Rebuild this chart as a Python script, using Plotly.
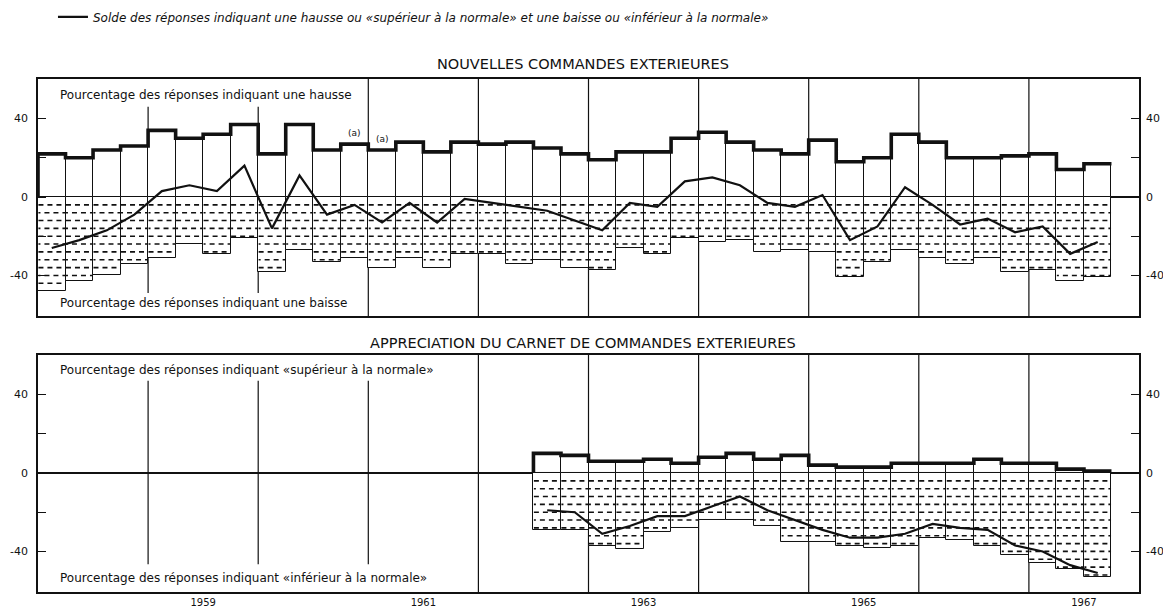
import plotly.graph_objects as go

# ---------------- data ----------------
# quarterly survey results (percent of answers)
top_quarters = [f"{y}-T{q}" for y in range(1958, 1968) for q in range(1, 5)][:39]
top_hausse = [22, 20, 24, 26, 34, 30, 32, 37, 22, 37, 24, 27,
              24, 28, 23, 28, 27, 28, 25, 22, 19, 23, 23, 30,
              33, 28, 24, 22, 29, 18, 20, 32, 28, 20, 20, 21,
              22, 14, 17]
top_baisse = [-48, -43, -40, -34, -31, -24, -29, -21, -38, -27, -33, -31,
              -36, -31, -36, -29, -29, -34, -32, -36, -37, -26, -29, -21,
              -23, -22, -28, -27, -28, -41, -33, -27, -31, -34, -31, -38,
              -37, -43, -41]
top_solde = [-26, -22, -17, -9, 3, 6, 3, 16, -16, 11, -9, -4,
             -13, -3, -13, -1, -3, -5, -7, -12, -17, -3, -5, 8,
             10, 6, -3, -5, 1, -22, -15, 5, -4, -14, -11, -18,
             -15, -29, -23]
top_notes = {"1960-T4": "(a)", "1961-T1": "(a)"}

bot_quarters = ["1962-T3", "1962-T4"] + [f"{y}-T{q}" for y in range(1963, 1968) for q in range(1, 5)][:19]
bot_hausse = [10, 9, 6, 6, 7, 5, 8, 10, 7, 9, 4, 3, 3, 5, 5, 5, 7, 5, 5, 2, 1]
bot_baisse = [-29, -29, -37, -39, -30, -28, -24, -24, -27, -35, -35, -37,
              -38, -37, -33, -34, -37, -42, -46, -49, -53]
bot_solde = [-19, -20, -31, -27, -22, -22, -17, -12, -19, -24, -29, -33,
             -33, -31, -26, -28, -29, -37, -40, -47, -51]

year_lines = [1959, 1960, 1961, 1962, 1963, 1964, 1965, 1966, 1967]
top_short_lines = [1959, 1960]
bot_short_lines = [1959, 1960, 1961]
year_tick_labels = ["1959", "1961", "1963", "1965", "1967"]

legend_text = ("Solde des réponses indiquant une hausse ou «supérieur à la normale» "
               "et une baisse ou «inférieur à la normale»")
top_title = "NOUVELLES COMMANDES EXTERIEURES"
bot_title = "APPRECIATION DU CARNET DE COMMANDES EXTERIEURES"
top_up_label = "Pourcentage des réponses indiquant une hausse"
top_dn_label = "Pourcentage des réponses indiquant une baisse"
bot_up_label = "Pourcentage des réponses indiquant «supérieur à la normale»"
bot_dn_label = "Pourcentage des réponses indiquant «inférieur à la normale»"

# ---------------- helpers ----------------
FONT = "DejaVu Sans"
INK = "#111111"
QW = 0.25


def qx(label):
    y, q = label.split("-T")
    return int(y) + (int(q) - 1) * QW + QW / 2


DASH_A = "5px,4px"
DASH_B = "2px,4px,5px,4px,3px,0px"


def panel_traces(quarters, hausse, baisse, solde, xa, ya, show_legend):
    xc = [qx(q) for q in quarters]
    tr = []
    tr.append(go.Bar(x=xc, y=hausse, width=QW, marker=dict(color="white", line=dict(color=INK, width=1)),
                     xaxis=xa, yaxis=ya, showlegend=False, hoverinfo="skip"))
    tr.append(go.Bar(x=xc, y=baisse, width=QW, marker=dict(color="white", line=dict(color=INK, width=1)),
                     xaxis=xa, yaxis=ya, showlegend=False, hoverinfo="skip"))
    # dashed hatching inside the "baisse" bars
    k = 1
    deepest = min(baisse)
    while -4 * k > deepest:
        level = -4 * k
        xs, ys = [], []
        for c, b in zip(xc, baisse):
            if b <= level - 1:
                xs += [c - QW / 2 + 0.004, c + QW / 2 - 0.004, None]
                ys += [level, level, None]
        if xs:
            tr.append(go.Scatter(x=xs, y=ys, mode="lines", connectgaps=False,
                                 line=dict(color=INK, width=1.6, dash=DASH_A if k % 2 else DASH_B),
                                 xaxis=xa, yaxis=ya, showlegend=False, hoverinfo="skip"))
        k += 1
    # thick step along the tops of the "hausse" bars
    sx = [xc[0] - QW / 2] + [c - QW / 2 for c in xc] + [xc[-1] + QW / 2]
    sy = [0] + list(hausse) + [hausse[-1]]
    tr.append(go.Scatter(x=sx, y=sy, mode="lines", line=dict(color=INK, width=3.6, shape="hv"),
                         xaxis=xa, yaxis=ya, showlegend=False, hoverinfo="skip"))
    tr.append(go.Scatter(x=xc, y=solde, mode="lines", line=dict(color=INK, width=2.2),
                         name=legend_text, xaxis=xa, yaxis=ya, showlegend=show_legend))
    return tr


fig = go.Figure()
for t in panel_traces(top_quarters, top_hausse, top_baisse, top_solde, "x", "y", True):
    fig.add_trace(t)
for t in panel_traces(bot_quarters, bot_hausse, bot_baisse, bot_solde, "x2", "y2", False):
    fig.add_trace(t)
# invisible traces to carry the right-hand axes
fig.add_trace(go.Scatter(x=[1958], y=[0], mode="markers", marker=dict(opacity=0), xaxis="x", yaxis="y3",
                         showlegend=False, hoverinfo="skip"))
fig.add_trace(go.Scatter(x=[1958], y=[0], mode="markers", marker=dict(opacity=0), xaxis="x2", yaxis="y4",
                         showlegend=False, hoverinfo="skip"))

YR = [-60.7, 60.2]
TOP_DOM = [0.538, 1.0]
BOT_DOM = [0.0, 0.462]
yt = dict(range=YR, tickvals=[-40, -20, 0, 20, 40], ticktext=["-40", "", "0", "", "40"],
          ticks="inside", ticklen=8, tickcolor=INK, tickwidth=1.3, showgrid=False, automargin=False,
          tickfont=dict(family=FONT, size=11, color=INK), fixedrange=True)
xcommon = dict(range=[1958, 1968], showgrid=False, zeroline=False, showline=True, mirror=True,
               linecolor=INK, linewidth=1.5, ticks="", fixedrange=True, automargin=False)

fig.update_layout(
    width=1163, height=613,
    margin=dict(l=38, r=24, t=79, b=21, autoexpand=False),
    paper_bgcolor="white", plot_bgcolor="white",
    barmode="overlay", bargap=0,
    font=dict(family=FONT, color=INK),
    xaxis=dict(xcommon, domain=[0, 1], anchor="y", showticklabels=False),
    xaxis2=dict(xcommon, domain=[0, 1], anchor="y2",
                tickvals=[int(s) + 0.5 for s in year_tick_labels], ticktext=year_tick_labels,
                tickfont=dict(family=FONT, size=10, color=INK)),
    yaxis=dict(yt, domain=TOP_DOM, anchor="x", showline=True, mirror=True, linecolor=INK, linewidth=1.5,
               zeroline=True, zerolinecolor=INK, zerolinewidth=1.6, ticklabelstandoff=6),
    yaxis2=dict(yt, domain=BOT_DOM, anchor="x2", showline=True, mirror=True, linecolor=INK, linewidth=1.5,
                zeroline=True, zerolinecolor=INK, zerolinewidth=2, ticklabelstandoff=6),
    yaxis3=dict(yt, overlaying="y", side="right", anchor="x", showline=False, zeroline=False,
                ticklabelstandoff=6),
    yaxis4=dict(yt, overlaying="y2", side="right", anchor="x2", showline=False, zeroline=False,
                ticklabelstandoff=6),
    showlegend=True,
    legend=dict(x=0.0136, xanchor="left", y=1.121, yanchor="middle", bgcolor="rgba(0,0,0,0)",
                font=dict(family=FONT, size=12, color=INK, style="italic"), itemwidth=30),
)

# year boundary lines
for yl in year_lines:
    if yl in top_short_lines:
        fig.add_shape(type="line", xref="x", yref="y", x0=yl, x1=yl, y0=-49, y1=46,
                      line=dict(color=INK, width=1.2), layer="below")
    else:
        fig.add_shape(type="line", xref="x", yref="y domain", x0=yl, x1=yl, y0=0, y1=1,
                      line=dict(color=INK, width=1.2), layer="below")
    if yl in bot_short_lines:
        fig.add_shape(type="line", xref="x2", yref="y2", x0=yl, x1=yl, y0=-46.5, y1=47,
                      line=dict(color=INK, width=1.2), layer="below")
    else:
        fig.add_shape(type="line", xref="x2", yref="y2 domain", x0=yl, x1=yl, y0=0, y1=1,
                      line=dict(color=INK, width=1.2), layer="below")

ann = []
ann.append(dict(text=top_title, xref="paper", yref="y domain", x=0.495, y=1.063, showarrow=False,
                font=dict(family=FONT, size=14.5, color=INK), xanchor="center", yanchor="middle"))
ann.append(dict(text=bot_title, xref="paper", yref="y2 domain", x=0.495, y=1.051, showarrow=False,
                font=dict(family=FONT, size=14.5, color=INK), xanchor="center", yanchor="middle"))
for txt, yref, yy in [(top_up_label, "y domain", 0.932), (top_dn_label, "y domain", 0.055),
                      (bot_up_label, "y2 domain", 0.937), (bot_dn_label, "y2 domain", 0.059)]:
    ann.append(dict(text=txt, xref="paper", yref=yref, x=0.018, y=yy, showarrow=False,
                    font=dict(family=FONT, size=12, color=INK), xanchor="left", yanchor="middle"))
for q, txt in top_notes.items():
    ann.append(dict(text=txt, xref="x", yref="y", x=qx(q), y=top_hausse[top_quarters.index(q)],
                    yshift=11, showarrow=False, font=dict(family=FONT, size=9, color=INK),
                    xanchor="center", yanchor="middle"))
fig.update_layout(annotations=ann)

fig.write_html("out.html", config={"displayModeBar": False},
               post_script="document.body.style.margin='0';")
